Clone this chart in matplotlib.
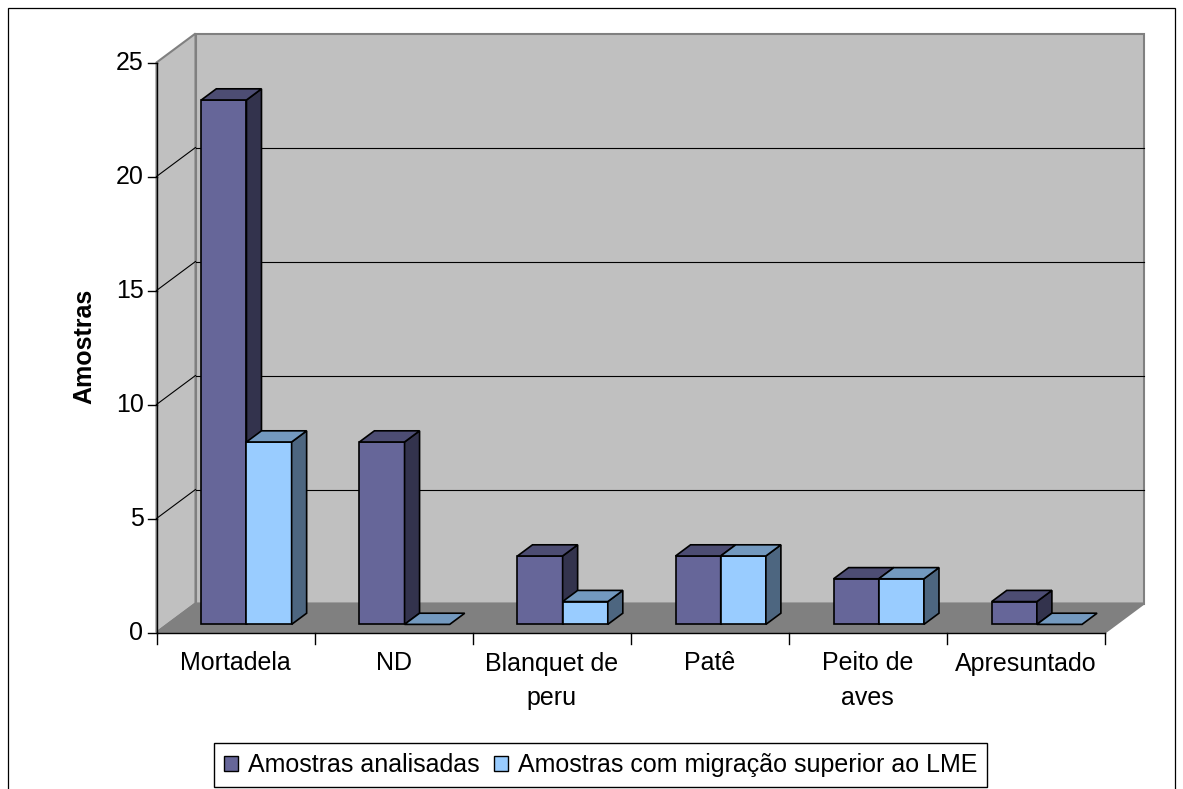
import numpy as np
import matplotlib
matplotlib.use("Agg")
import matplotlib.pyplot as plt
from matplotlib.colors import to_rgb
from matplotlib.patches import Polygon, Rectangle, Patch
from matplotlib.lines import Line2D
from matplotlib.transforms import IdentityTransform

plt.rcParams['font.family'] = ['Liberation Sans', 'DejaVu Sans']

# --- data -------------------------------------------------------------
categories = ["Mortadela", "ND", "Blanquet de\nperu", "Patê", "Peito de\naves", "Apresuntado"]
analisadas = [23, 8, 3, 3, 2, 1]
acima_lme = [8, 0, 1, 3, 2, 0]
series_names = ["Amostras analisadas", "Amostras com migração superior ao LME"]
series_colors = ["#666699", "#99ccff"]
y_ticks = [0, 5, 10, 15, 20, 25]
y_label = "Amostras"

# --- figure / front plane axes ---------------------------------------
W, H = 1183, 789
fig = plt.figure(figsize=(W / 100, H / 100), dpi=100)
fig.patch.set_facecolor("white")
ax = fig.add_axes([156.5 / W, 1 - 632.5 / H, 948.5 / W, 570 / H])
ax.set_xlim(0, len(categories))
ax.set_ylim(0, y_ticks[-1])
ax.axis("off")

DEPTH = np.array([39.0, 29.0])   # full depth of the 3-D box, in pixels
FS = 18


def P(x, v, d):
    """Display position of a point (category x, value v) pushed back by depth fraction d."""
    return ax.transData.transform((x, v)) + d * DEPTH


def poly(pts, fc, ec, lw, z):
    ax.add_patch(Polygon(pts, closed=True, facecolor=fc, edgecolor=ec, linewidth=lw,
                         transform=IdentityTransform(), clip_on=False, zorder=z,
                         joinstyle="miter"))


def seg(p0, p1, color, lw, z):
    ax.add_line(Line2D([p0[0], p1[0]], [p0[1], p1[1]], color=color, linewidth=lw,
                       transform=IdentityTransform(), clip_on=False, zorder=z))


def shade(c, f):
    return tuple(np.array(to_rgb(c)) * f)


n = len(categories)
ymax = y_ticks[-1]
wall = "#c0c0c0"
edge = "#808080"

# walls and floor
poly([P(0, 0, 1), P(n, 0, 1), P(n, ymax, 1), P(0, ymax, 1)], wall, edge, 1.5, 1)
poly([P(0, 0, 0), P(0, ymax, 0), P(0, ymax, 1), P(0, 0, 1)], wall, edge, 1.5, 1)
poly([P(0, 0, 0), P(n, 0, 0), P(n, 0, 1), P(0, 0, 1)], edge, edge, 1.5, 1.2)

# gridlines on back and side walls
for v in y_ticks[1:-1]:
    seg(P(0, v, 1), P(n, v, 1), "black", 0.8, 1.5)
    seg(P(0, v, 0), P(0, v, 1), "black", 0.8, 1.5)

# bars
w = 1 / 3.5
d_front, d_back = 0.28, 0.665
series = [analisadas, acima_lme]
z = 3
for i in range(n):
    for s, (vals, col) in enumerate(zip(series, series_colors)):
        v = vals[i]
        x0 = i + 0.75 * w + s * w
        x1 = x0 + w
        if v > 0:
            poly([P(x0, 0, d_front), P(x1, 0, d_front), P(x1, v, d_front), P(x0, v, d_front)],
                 col, "black", 1.2, z)
            poly([P(x1, 0, d_front), P(x1, 0, d_back), P(x1, v, d_back), P(x1, v, d_front)],
                 shade(col, 0.5), "black", 1.2, z)
        poly([P(x0, v, d_front), P(x1, v, d_front), P(x1, v, d_back), P(x0, v, d_back)],
             shade(col, 0.75), "black", 1.2, z)
        z += 1

# front axes lines and ticks
seg(P(0, 0, 0), P(0, ymax, 0), "black", 1.0, 20)
seg(P(0, 0, 0), P(n, 0, 0), "black", 1.0, 20)
for v in y_ticks:
    p = P(0, v, 0)
    seg(p, p - np.array([9, 0]), "black", 1.0, 20)
    ax.annotate(str(v), xy=(0, v), xytext=(-13, 0), textcoords="offset pixels",
                ha="right", va="center", fontsize=FS, annotation_clip=False)
for i in range(n + 1):
    p = P(i, 0, 0)
    seg(p, p - np.array([0, 11]), "black", 1.0, 20)
for i, cat in enumerate(categories):
    ax.annotate(cat, xy=(i + 0.5, 0), xytext=(0, -19), textcoords="offset pixels",
                ha="center", va="top", fontsize=FS, linespacing=1.55,
                multialignment="center", annotation_clip=False)

fig.text(84 / W, 1 - 346 / H, y_label, rotation=90, ha="center", va="center",
         fontsize=FS, fontweight="bold")

# legend
handles = [Patch(facecolor=c, edgecolor="black", linewidth=1.0) for c in series_colors]
leg = fig.legend(handles=handles, labels=series_names, loc="center",
                 bbox_to_anchor=(600.5 / W, 1 - 765 / H), ncol=2, frameon=True,
                 fancybox=False, shadow=False, edgecolor="black", framealpha=1,
                 handlelength=0.55, handleheight=0.55, handletextpad=0.4,
                 columnspacing=0.6, borderpad=0.4, borderaxespad=0, fontsize=FS)
leg.get_frame().set_linewidth(1.0)

# outer chart border
fig.add_artist(Rectangle((8 / W, -0.05), (1175 - 8) / W, 1 - 8 / H + 0.05,
                         transform=fig.transFigure, fill=False, edgecolor="black",
                         linewidth=0.9))

fig.savefig("out.png", dpi=100, facecolor="white")
